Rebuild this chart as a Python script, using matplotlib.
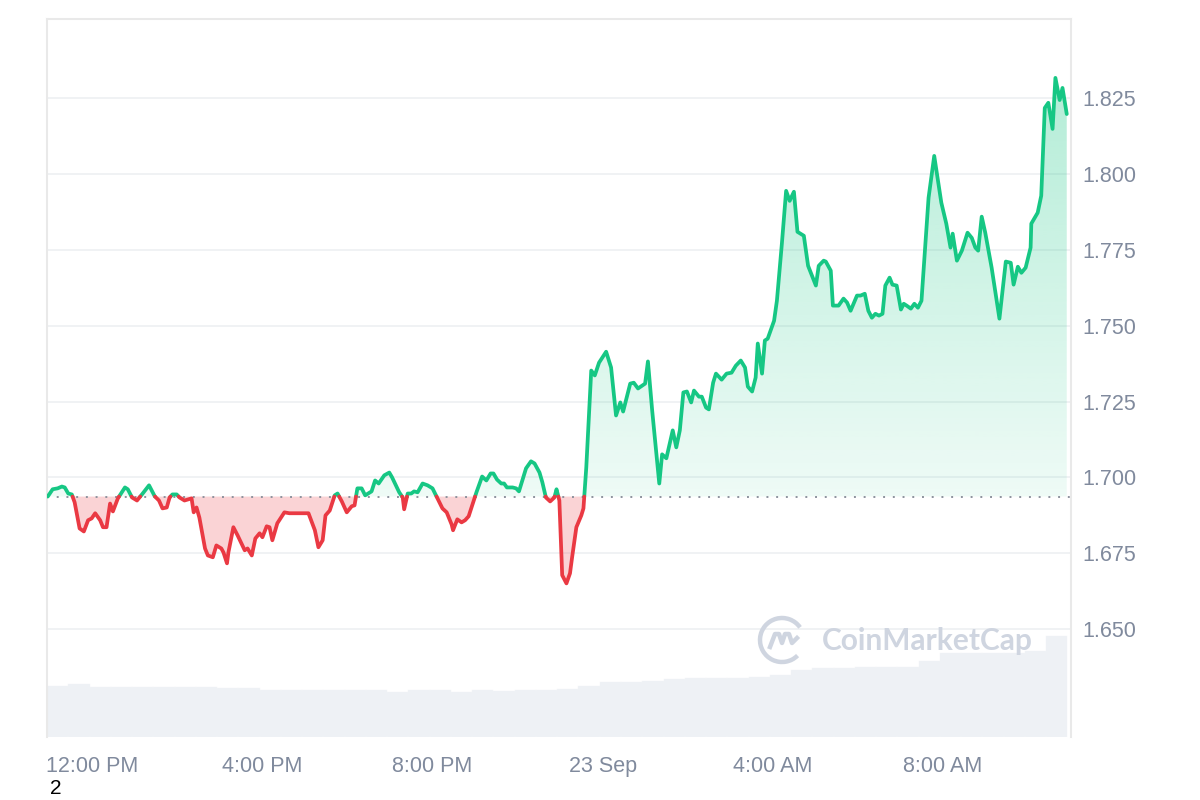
import matplotlib
matplotlib.use("Agg")
import matplotlib.pyplot as plt
from matplotlib.patches import Arc
import numpy as np

# minutes relative to 12:00 PM (22 Sep) and price in USD
times_min = [-63, -56, -49, -43, -39, -34, -29, -25, -18, -12,
             -6, -1, 4, 11, 15, 20, 25, 29, 36, 46,
             50, 56, 63, 70, 80, 88, 94, 99, 105, 109,
             113, 119, 123, 130, 140, 143, 147, 151, 159, 163,
             170, 175, 182, 185, 190, 192, 199, 205, 215, 219,
             225, 230, 236, 240, 246, 250, 254, 261, 271, 278,
             288, 297, 305, 314, 319, 325, 329, 335, 342, 346,
             352, 359, 366, 370, 374, 380, 385, 394, 399, 404,
             412, 419, 423, 433, 438, 440, 445, 450, 454, 459,
             466, 473, 480, 487, 494, 500, 507, 509, 515, 521,
             526, 531, 536, 542, 550, 556, 562, 566, 571, 577,
             581, 585, 593, 598, 602, 608, 612, 619, 624, 631,
             635, 640, 646, 652, 655, 659, 663, 669, 674, 677,
             683, 690, 693, 697, 704, 709, 715, 725, 732, 739,
             745, 749, 759, 764, 770, 780, 784, 790, 800, 804,
             810, 819, 824, 829, 834, 839, 845, 849, 856, 860,
             866, 870, 876, 880, 888, 895, 902, 908, 915, 921,
             925, 931, 936, 939, 945, 949, 953, 962, 966, 973,
             979, 984, 990, 995, 1004, 1010, 1021, 1025, 1032, 1035,
             1042, 1045, 1053, 1060, 1065, 1070, 1079, 1084, 1090, 1095,
             1100, 1105, 1110, 1115, 1119, 1125, 1129, 1135, 1141, 1145,
             1149, 1155, 1160, 1165, 1170, 1180, 1188, 1198, 1205, 1211,
             1214, 1220, 1227, 1235, 1241, 1246, 1250, 1255, 1260, 1269,
             1280, 1289, 1296, 1300, 1306, 1311, 1317, 1324, 1325, 1334,
             1339, 1344, 1349, 1355, 1359, 1365, 1369, 1375]

prices = [1.6937, 1.6961, 1.6964, 1.6970, 1.6967, 1.6947, 1.6944, 1.6918, 1.6832, 1.6822,
          1.6859, 1.6865, 1.6882, 1.6859, 1.6836, 1.6836, 1.6914, 1.6888, 1.6931, 1.6967,
          1.6961, 1.6934, 1.6924, 1.6944, 1.6974, 1.6938, 1.6924, 1.6898, 1.6901, 1.6934,
          1.6944, 1.6944, 1.6934, 1.6924, 1.6931, 1.6885, 1.6901, 1.6868, 1.6766, 1.6743,
          1.6737, 1.6776, 1.6766, 1.6753, 1.6717, 1.6753, 1.6836, 1.6809, 1.6760, 1.6766,
          1.6743, 1.6799, 1.6816, 1.6803, 1.6839, 1.6836, 1.6793, 1.6849, 1.6885, 1.6882,
          1.6882, 1.6882, 1.6882, 1.6826, 1.6770, 1.6793, 1.6875, 1.6891, 1.6941, 1.6947,
          1.6921, 1.6885, 1.6905, 1.6908, 1.6964, 1.6964, 1.6941, 1.6954, 1.6990, 1.6980,
          1.7007, 1.7016, 1.7000, 1.6951, 1.6934, 1.6895, 1.6947, 1.6947, 1.6954, 1.6951,
          1.6980, 1.6974, 1.6964, 1.6931, 1.6898, 1.6885, 1.6845, 1.6826, 1.6862, 1.6852,
          1.6859, 1.6872, 1.6908, 1.6951, 1.7003, 1.6990, 1.7013, 1.7013, 1.6993, 1.6980,
          1.6980, 1.6967, 1.6967, 1.6964, 1.6954, 1.7000, 1.7030, 1.7053, 1.7046, 1.7016,
          1.6984, 1.6934, 1.6921, 1.6934, 1.6961, 1.6924, 1.6678, 1.6651, 1.6684, 1.6737,
          1.6836, 1.6875, 1.6898, 1.7033, 1.7352, 1.7336, 1.7378, 1.7414, 1.7362, 1.7204,
          1.7247, 1.7217, 1.7309, 1.7312, 1.7293, 1.7309, 1.7382, 1.7220, 1.6980, 1.7076,
          1.7063, 1.7155, 1.7099, 1.7155, 1.7280, 1.7283, 1.7247, 1.7286, 1.7266, 1.7266,
          1.7230, 1.7224, 1.7312, 1.7342, 1.7322, 1.7342, 1.7345, 1.7368, 1.7385, 1.7362,
          1.7299, 1.7283, 1.7329, 1.7441, 1.7342, 1.7451, 1.7457, 1.7516, 1.7582, 1.7770,
          1.7944, 1.7911, 1.7941, 1.7809, 1.7796, 1.7697, 1.7632, 1.7697, 1.7714, 1.7711,
          1.7681, 1.7566, 1.7566, 1.7589, 1.7576, 1.7549, 1.7599, 1.7599, 1.7605, 1.7549,
          1.7526, 1.7539, 1.7533, 1.7539, 1.7632, 1.7658, 1.7635, 1.7632, 1.7553, 1.7572,
          1.7566, 1.7556, 1.7572, 1.7559, 1.7582, 1.7921, 1.8059, 1.7905, 1.7836, 1.7757,
          1.7803, 1.7714, 1.7747, 1.7806, 1.7789, 1.7757, 1.7747, 1.7859, 1.7806, 1.7691,
          1.7523, 1.7711, 1.7707, 1.7635, 1.7694, 1.7674, 1.7691, 1.7757, 1.7836, 1.7872,
          1.7928, 1.8217, 1.8234, 1.8148, 1.8316, 1.8243, 1.8283, 1.8197]

open_price = 1.6937

# 30-minute volume bars (arbitrary units)
vol_start_min = -64
volumes = [5.1, 5.3, 5.05, 5.05, 5.05, 5.05, 5.05, 5.05, 4.9, 4.9,
           4.7, 4.7, 4.7, 4.7, 4.7, 4.7, 4.55, 4.7, 4.7, 4.55,
           4.7, 4.6, 4.7, 4.7, 4.8, 5.1, 5.5, 5.5, 5.6, 5.8,
           5.9, 5.9, 5.9, 6.0, 6.2, 6.7, 6.9, 6.9, 7.0, 7.0,
           7.0, 7.6, 8.4, 8.4, 8.4, 8.4, 8.6, 10.1]

y_ticks = [1.650, 1.675, 1.700, 1.725, 1.750, 1.775, 1.800, 1.825]
x_ticks = [0, 240, 480, 720, 960, 1200]
x_labels = ["12:00 PM", "4:00 PM", "8:00 PM", "23 Sep", "4:00 AM", "8:00 AM"]

GREEN = "#16c784"
RED = "#ea3943"
LABEL = "#808a9d"
plt.rcParams["font.family"] = ["Liberation Sans", "DejaVu Sans"]

t = np.array(times_min, dtype=float)
p = np.array(prices)

# add the points where the line crosses the opening price
ts, ps = [t[0]], [p[0]]
for i in range(1, len(t)):
    a, b = p[i - 1] - open_price, p[i] - open_price
    if a * b < 0:
        ts.append(t[i - 1] + (t[i] - t[i - 1]) * (-a) / (b - a))
        ps.append(open_price)
    ts.append(t[i])
    ps.append(p[i])
ts, ps = np.array(ts), np.array(ps)

fig = plt.figure(figsize=(12, 8), dpi=100)
ax = fig.add_axes([47 / 1200, 63 / 800, 1024 / 1200, 718 / 800])
ax2 = ax.twinx()

# volume
vx = vol_start_min + 30 * np.arange(len(volumes)) + 15
ax2.bar(vx, volumes, width=30, color="#eef1f5", edgecolor="#f2f4f7", linewidth=0.3)
ax2.set_ylim(0, 71.8)
ax2.set_yticks([])
for s in ax2.spines.values():
    s.set_visible(False)

ax.set_zorder(ax2.get_zorder() + 1)
ax.patch.set_visible(False)

ymin, ymax = 1.6145, 1.8510
xmin, xmax = -64, 1381

# green area with vertical gradient
green_poly = ax.fill_between(ts, open_price, np.maximum(ps, open_price),
                             facecolor="none", linewidth=0)
grad = np.zeros((256, 1, 4))
grad[:, 0, :3] = matplotlib.colors.to_rgb(GREEN)
grad[:, 0, 3] = np.linspace(0.07, 0.36, 256)
im = ax.imshow(grad, extent=[xmin, xmax, open_price, ymax], origin="lower",
               aspect="auto", zorder=2, interpolation="bilinear")
im.set_clip_path(green_poly.get_paths()[0], transform=ax.transData)

# red area
ax.fill_between(ts, open_price, np.minimum(ps, open_price),
                facecolor=RED, alpha=0.22, linewidth=0, zorder=2)

ax.plot(ts, np.where(ps >= open_price, ps, np.nan), color=GREEN, lw=2.7,
        solid_joinstyle="round", solid_capstyle="round", zorder=4)
ax.plot(ts, np.where(ps <= open_price, ps, np.nan), color=RED, lw=2.7,
        solid_joinstyle="round", solid_capstyle="round", zorder=4)

ax.axhline(open_price, color="#8d939e", lw=1.4, linestyle=(0, (1, 4)), zorder=3)

ax.set_xlim(xmin, xmax)
ax.set_ylim(ymin, ymax)
ax.set_yticks(y_ticks)
ax.set_yticklabels([f"{v:.3f}" for v in y_ticks])
ax.yaxis.tick_right()
ax.set_xticks(x_ticks)
ax.set_xticklabels(x_labels)
ax.tick_params(axis="y", length=0, pad=8, labelsize=15.5, labelcolor=LABEL)
ax.tick_params(axis="x", length=0, pad=14, labelsize=15.5, labelcolor=LABEL)
ax.grid(axis="y", color="#eff1f3", lw=1.3, zorder=0)
ax.set_axisbelow(True)

for side in ["left", "top", "right"]:
    ax.spines[side].set_color("#e9e9e9")
    ax.spines[side].set_linewidth(1.5)
ax.spines["bottom"].set_visible(False)

# watermark
wm = "#cfd5e0"
fig.patches.append(Arc((7.82, 1.60), 0.44, 0.44, theta1=35, theta2=315,
                       transform=fig.dpi_scale_trans, color=wm, lw=3.2))
mx = np.array([-0.12, -0.07, -0.03, 0.0, 0.03, 0.07, 0.10, 0.15])
my = np.array([-0.07, 0.06, 0.06, -0.03, 0.06, 0.06, -0.03, 0.02])
fig.lines.append(plt.Line2D(7.82 + mx, 1.60 + my, transform=fig.dpi_scale_trans,
                            color=wm, lw=3.2, solid_joinstyle="round"))
fig.text(822 / 1200, 1 - 641 / 800, "CoinMarketCap", color=wm, fontsize=21.5,
         fontweight="bold", family=["Lato", "DejaVu Sans"], va="center", ha="left")

fig.text(50 / 1200, 1 - 789 / 800, "2", color="black", fontsize=15, va="center", ha="left")

fig.savefig("out.png", dpi=100)
